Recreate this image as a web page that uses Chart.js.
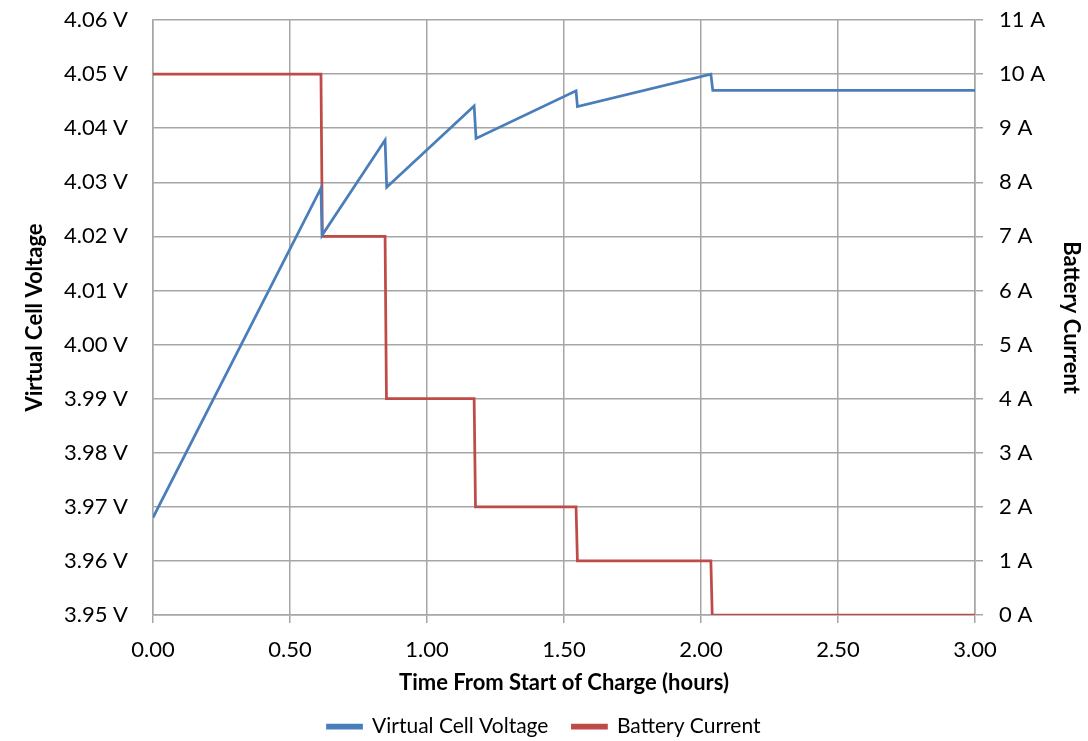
<!DOCTYPE html>
<html lang="en">
<head>
  <meta charset="UTF-8">
  <title>Virtual Cell Voltage and Battery Current</title>
  <script src="https://cdn.jsdelivr.net/npm/chart.js@4.4.5/dist/chart.umd.min.js"></script>
  <style>
    html, body { margin: 0; padding: 0; background: #fff; }
    #wrap { width: 1088px; height: 741px; }
  </style>
</head>
<body>
  <div id="wrap"><canvas id="chargeChart"></canvas></div>
  <script>
    // Voltage trace (hours, volts)
    const voltageTime = [0.00, 0.613, 0.617, 0.847, 0.853, 1.172, 1.179, 1.544, 1.549, 2.036, 2.043, 3.00];
    const voltageValues = [3.968, 4.0289, 4.0202, 4.0378, 4.0291, 4.0441, 4.0381, 4.0469, 4.0440, 4.0500, 4.0470, 4.0470];

    // Current steps (hours, amps)
    const currentTime = [0.00, 0.613, 0.618, 0.847, 0.852, 1.172, 1.177, 1.544, 1.549, 2.036, 2.041, 3.00];
    const currentValues = [10, 10, 7, 7, 4, 4, 2, 2, 1, 1, 0, 0];

    const gridColor = '#a6a6a6';
    const tickFont = { family: 'Lato', size: 22 };
    const titleFont = { family: 'Lato', size: 22, weight: 'bold' };

    function toPoints(xs, ys) {
      return xs.map((x, i) => ({ x: x, y: ys[i] }));
    }

    // y axes: fixed width, and don't let tick padding push the plot area down
    function fixY(width) {
      return s => {
        s.width = width;
        s.paddingTop = 0;
        s.paddingBottom = 0;
      };
    }

    const ctx = document.getElementById('chargeChart').getContext('2d');
    new Chart(ctx, {
      type: 'line',
      data: {
        datasets: [
          {
            label: 'Virtual Cell Voltage',
            data: toPoints(voltageTime, voltageValues),
            borderColor: '#4A7EBB',
            backgroundColor: '#4A7EBB',
            borderWidth: 2.75,
            pointRadius: 0,
            tension: 0,
            yAxisID: 'yV'
          },
          {
            label: 'Battery Current',
            data: toPoints(currentTime, currentValues),
            borderColor: '#BE4B48',
            backgroundColor: '#BE4B48',
            borderWidth: 2.75,
            pointRadius: 0,
            tension: 0,
            yAxisID: 'yA'
          }
        ]
      },
      options: {
        responsive: true,
        maintainAspectRatio: false,
        animation: false,
        layout: { padding: { top: 20, right: 0, bottom: -6, left: 0 } },
        plugins: {
          tooltip: { enabled: false },
          legend: {
            position: 'bottom',
            labels: {
              font: { family: 'Lato', size: 21 },
              color: '#000',
              boxWidth: 34,
              boxHeight: 3,
              padding: 24
            }
          }
        },
        scales: {
          x: {
            type: 'linear',
            min: 0,
            max: 3,
            ticks: {
              stepSize: 0.5,
              font: tickFont,
              color: '#000',
              padding: 14,
              callback: v => v.toFixed(2)
            },
            grid: { color: gridColor, lineWidth: 1.5, tickLength: 8 },
            border: { color: gridColor, width: 1.5 },
            title: {
              display: true,
              text: 'Time From Start of Charge (hours)',
              font: titleFont,
              color: '#000',
              padding: { top: 4, bottom: -4 }
            },
            afterFit: s => { s.height = 77; }
          },
          yV: {
            type: 'linear',
            position: 'left',
            min: 3.95,
            max: 4.06,
            ticks: {
              stepSize: 0.01,
              font: tickFont,
              color: '#000',
              padding: 25,
              callback: v => v.toFixed(2) + ' V'
            },
            grid: { color: gridColor, lineWidth: 1.5, drawTicks: false },
            border: { color: gridColor, width: 1.5 },
            title: {
              display: true,
              text: 'Virtual Cell Voltage',
              font: titleFont,
              color: '#000',
              padding: { top: 22, bottom: 0 }
            },
            afterFit: fixY(153)
          },
          yA: {
            type: 'linear',
            position: 'right',
            min: 0,
            max: 11,
            ticks: {
              stepSize: 1,
              font: tickFont,
              color: '#000',
              padding: 16,
              callback: v => v + ' A'
            },
            grid: { color: gridColor, lineWidth: 1.5, drawOnChartArea: false, tickLength: 8 },
            border: { color: gridColor, width: 1.5 },
            title: {
              display: true,
              text: 'Battery Current',
              font: titleFont,
              color: '#000',
              padding: { top: 4, bottom: 0 }
            },
            afterFit: fixY(113)
          }
        }
      }
    });
  </script>
</body>
</html>
